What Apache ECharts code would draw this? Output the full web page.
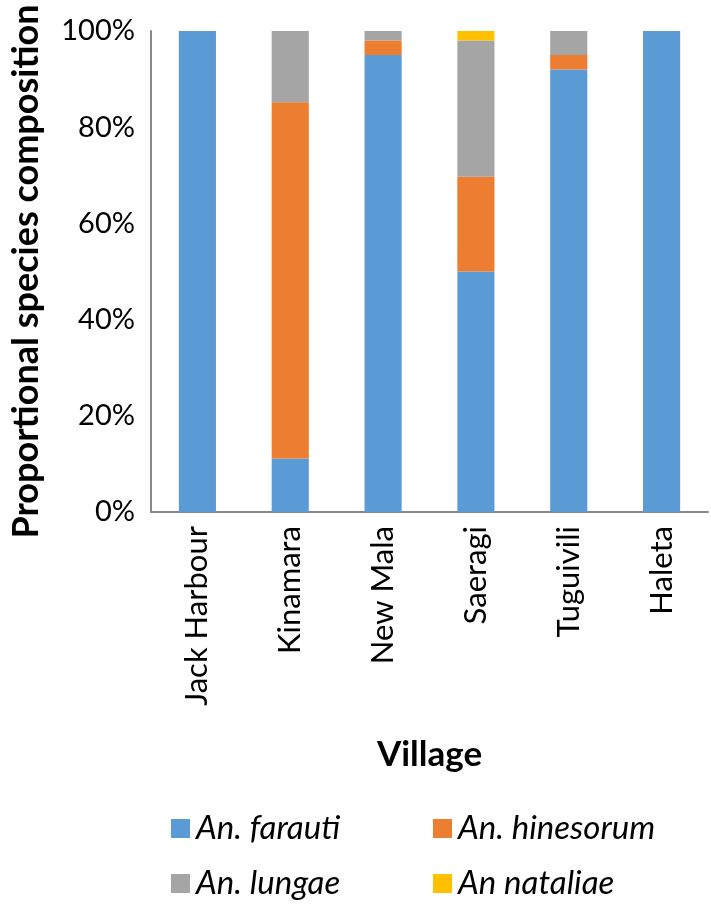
<!DOCTYPE html>
<html>
<head>
<meta charset="utf-8">
<script src="https://cdn.jsdelivr.net/npm/echarts@6/dist/echarts.min.js"></script>
<style>html,body{margin:0;padding:0;background:#fff}#c{width:711px;height:907px}</style>
</head>
<body>
<div id="c"></div>
<script>
const villages = ['Jack Harbour', 'Kinamara', 'New Mala', 'Saeragi', 'Tuguivili', 'Haleta'];
const farauti = [100, 11.1, 95.0, 50.0, 92.0, 100];
const hinesorum = [0, 74.1, 3.0, 19.7, 3.0, 0];
const lungae = [0, 14.8, 2.0, 28.3, 5.0, 0];
const nataliae = [0, 0, 0, 2.0, 0, 0];
const yTicks = [0, 20, 40, 60, 80, 100];
const speciesNames = ['An. farauti', 'An. hinesorum', 'An. lungae', 'An nataliae'];

const FONT = 'Lato';
const chart = echarts.init(document.getElementById('c'));
const mk = (name, data, color) => ({
  name, type: 'bar', stack: 'total', data, barWidth: '40%',
  itemStyle: { color }, emphasis: { disabled: true }
});
const legendPos = [[166, 807], [428, 807], [166, 862], [428, 862]];
const legends = speciesNames.map((n, i) => ({
  data: [n], left: legendPos[i][0], top: legendPos[i][1],
  itemWidth: 19, itemHeight: 19, itemGap: 0, icon: 'rect',
  selectedMode: false,
  textStyle: { fontSize: 33, fontStyle: 'italic', color: '#000', fontFamily: FONT, padding: [0, 0, 0, 1] }
}));
chart.setOption({
  animation: false,
  textStyle: { fontFamily: FONT },
  grid: { left: 144, top: 31, right: 3, bottom: 395 },
  xAxis: {
    type: 'category', data: villages,
    axisLine: { lineStyle: { color: '#888', width: 2 } },
    axisTick: { show: false },
    axisLabel: { rotate: 90, color: '#000', fontSize: 31, fontFamily: FONT, margin: 14 },
    name: 'Village', nameLocation: 'middle', nameGap: 225,
    nameTextStyle: { fontSize: 35, fontWeight: 'bold', color: '#000', fontFamily: FONT }
  },
  yAxis: {
    type: 'value', min: 0, max: 100, interval: 20,
    axisLine: { show: true, lineStyle: { color: '#888', width: 2 } },
    axisTick: { show: false },
    splitLine: { show: false },
    axisLabel: { color: '#000', fontSize: 29, fontFamily: FONT, margin: 16,
      formatter: v => yTicks.includes(v) ? v + '%' : '' },
    name: 'Proportional species composition', nameLocation: 'middle', nameGap: 107,
    nameTextStyle: { fontSize: 36, fontWeight: 'bold', color: '#000', fontFamily: FONT }
  },
  legend: legends,
  series: [
    mk(speciesNames[0], farauti, '#5B9BD5'),
    mk(speciesNames[1], hinesorum, '#ED7D31'),
    mk(speciesNames[2], lungae, '#A5A5A5'),
    mk(speciesNames[3], nataliae, '#FFC000')
  ]
});
</script>
</body>
</html>
